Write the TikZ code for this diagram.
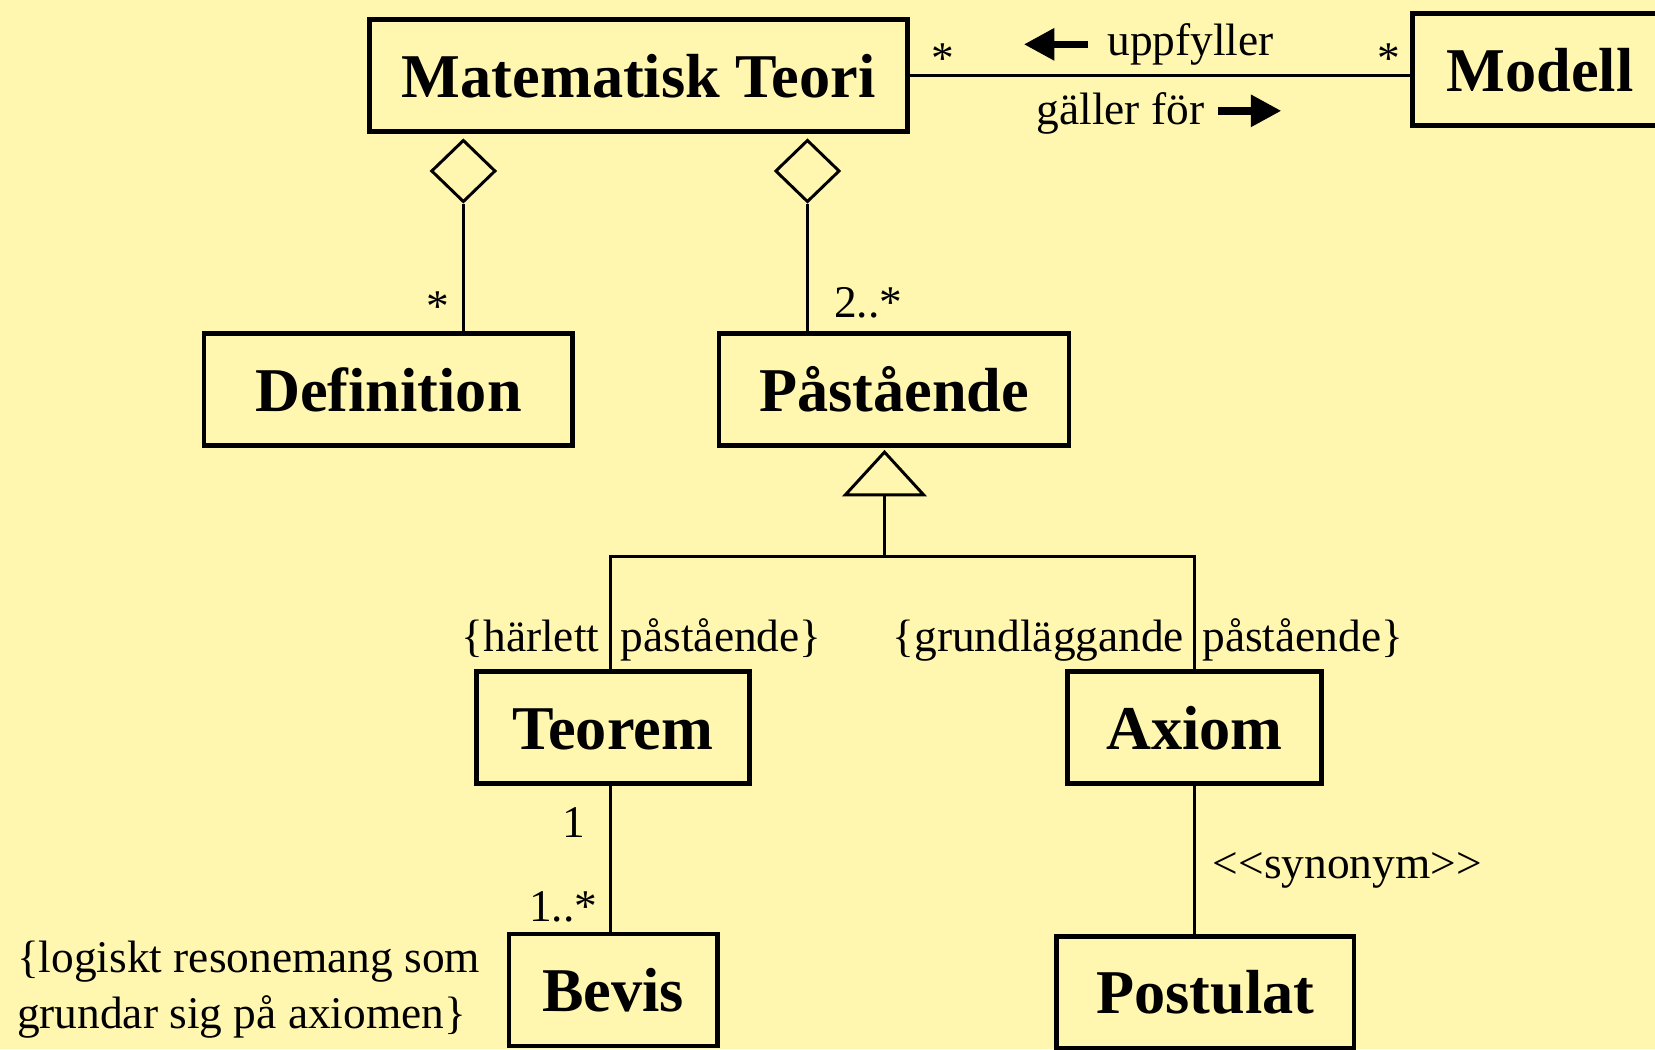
\documentclass[tikz,border=0pt]{standalone}
\usepackage{fontspec}
\setmainfont{Liberation Serif}
\usetikzlibrary{shapes.geometric,arrows.meta}
\definecolor{bg}{RGB}{255,246,176}
\begin{document}
\begin{tikzpicture}[x=1pt,y=-1pt,
  cls/.style={draw, line width=4.5pt, inner sep=0pt, minimum height=106pt,
    font=\fontsize{59}{60}\selectfont\bfseries, text height=41pt, text depth=0pt},
  lbl/.style={font=\fontsize{43}{50}\selectfont, inner sep=0pt},
  conn/.style={line width=2.8pt},
  agg/.style={draw, shape=diamond, line width=2.8pt, minimum width=61pt,
    minimum height=59pt, inner sep=0pt, fill=bg},
  dirarrow/.style={line width=7pt, -{Triangle[length=29pt,width=29pt]}},
]
\fill[bg] (0,0) rectangle (1568,994);
\useasboundingbox (0,0) rectangle (1568,994);

% classes
\node[cls, minimum width=509.5pt] (mt)  at (605,71.5)    {Matematisk Teori};
\node[cls, minimum width=241.5pt] (mod) at (1459,66)     {Modell};
\node[cls, minimum width=349.5pt] (def) at (368,369)     {Definition};
\node[cls, minimum width=331.5pt] (pas) at (847,369)     {Påstående};
\node[cls, minimum width=258.5pt] (teo) at (580.5,689.5) {Teorem};
\node[cls, minimum width=240.5pt] (axi) at (1131.5,689.5){Axiom};
\node[cls, minimum width=197.5pt] (bev) at (581,938)     {Bevis};
\node[cls, minimum width=281.5pt] (pos) at (1142,940)    {Postulat};

% aggregation
\node[agg] (d1) at (439,162) {};
\node[agg] (d2) at (765,162) {};
\draw[conn] (d1.south) -- (d1.south |- def.north);
\draw[conn] (d2.south) -- (d2.south |- pas.north);

% association Matematisk Teori -- Modell
\draw[conn] (mt.east) -- (mt.east -| mod.west);

% generalization
\coordinate (gj) at (838,527.5);
\coordinate (gl) at (578,527.5);
\coordinate (gr) at (1132,527.5);
\draw[conn, -{Triangle[open, length=44pt, width=80pt]}] (gj) -- ([yshift=-2pt]gj |- pas.south);
\draw[conn] (gl |- teo.north) -- (gl) -- (gr) -- (gr |- axi.north);
\draw[conn] (gl |- teo.south) -- (gl |- bev.north);
\draw[conn] (gr |- axi.south) -- (gr |- pos.north);

% direction arrows
\coordinate (ua1) at (1031,42);  \coordinate (ua2) at (970,42);
\coordinate (ga1) at (1154,105); \coordinate (ga2) at (1214,105);
\draw[dirarrow] (ua1) -- (ua2);
\draw[dirarrow] (ga1) -- (ga2);

% labels
\node[lbl, anchor=base] (m1) at (893,70) {*};
\node[lbl, anchor=base] (m2) at (1316,70) {*};
\node[lbl, anchor=base west] (upp) at (1049,53) {uppfyller};
\node[lbl, anchor=base west] (gal) at (982,118) {gäller för};
\node[lbl, anchor=base] (m3) at (415,305) {*};
\node[lbl, anchor=base west] (m4) at (790,301) {2..*};
\node[lbl, anchor=base east] (c1) at (568,617) {\{härlett};
\node[lbl, anchor=base west] (c2) at (588,617) {påstående\}};
\node[lbl, anchor=base east] (c3) at (1122,617) {\{grundläggande};
\node[lbl, anchor=base west] (c4) at (1139,617) {påstående\}};
\node[lbl, anchor=base] (m5) at (544,793) {1};
\node[lbl, anchor=base west] (m6) at (501,873) {1..*};
\node[lbl, anchor=base west] (syn) at (1149,832) {<\kern0pt<synonym>\kern0pt>};
\node[lbl, anchor=base west] (com1) at (16,921) {\{logiskt resonemang som};
\node[lbl, anchor=base west] (com2) at (16,974) {grundar sig på axiomen\}};
\end{tikzpicture}
\end{document}
